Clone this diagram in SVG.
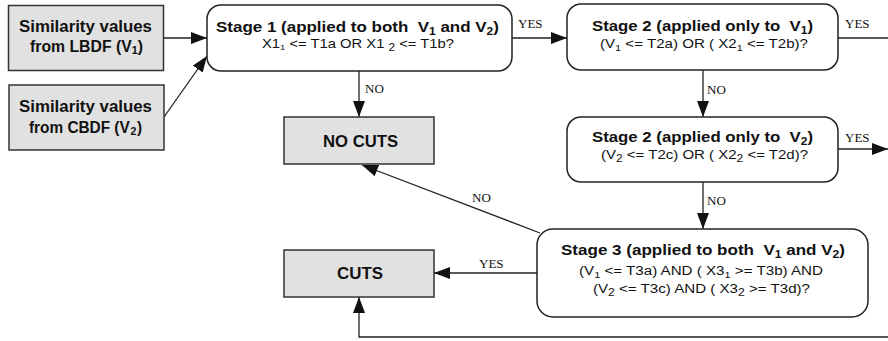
<svg xmlns="http://www.w3.org/2000/svg" width="888" height="341" viewBox="0 0 888 341">
<style>
.box{fill:#e1e1e1;stroke:#333;stroke-width:1.5}
.stage{fill:#fff;stroke:#222;stroke-width:1.5}
.lbl{font-family:"Liberation Sans",Arial,sans-serif;font-weight:bold;font-size:16px;fill:#111}
.ttl{font-family:"Liberation Sans",Arial,sans-serif;font-weight:bold;font-size:15.5px;fill:#111}
.cnd{font-family:"Liberation Sans",Arial,sans-serif;font-size:12.5px;fill:#111}
.yn{font-family:"Liberation Serif","Times New Roman",serif;font-size:13px;fill:#111}
.ln{fill:none;stroke:#222;stroke-width:1.3}
</style>
<defs>
<marker id="ah" markerUnits="userSpaceOnUse" markerWidth="16" markerHeight="12" refX="16" refY="6" orient="auto" viewBox="0 0 16 12">
<path d="M0,0 L16,6 L0,12 z" fill="#111"/>
</marker>
</defs>
<g id="connectors">
<path class="ln" d="M164,38 H207" marker-end="url(#ah)"/>
<path class="ln" d="M164,117 L207,56" marker-end="url(#ah)"/>
<path class="ln" d="M512,38 H567" marker-end="url(#ah)"/>
<path class="ln" d="M838,38 H888"/>
<path class="ln" d="M359,71 V117" marker-end="url(#ah)"/>
<path class="ln" d="M703,70 V117" marker-end="url(#ah)"/>
<path class="ln" d="M838,149 H888" marker-end="url(#ah)"/>
<path class="ln" d="M703,182 V229" marker-end="url(#ah)"/>
<path class="ln" d="M540,233 L362,165" marker-end="url(#ah)"/>
<path class="ln" d="M537,273 H434" marker-end="url(#ah)"/>
<path class="ln" d="M888,337 H359 V297" marker-end="url(#ah)"/>
<text class="yn" x="518" y="28">YES</text>
<text class="yn" x="845" y="28">YES</text>
<text class="yn" x="845" y="142">YES</text>
<text class="yn" x="365" y="93">NO</text>
<text class="yn" x="707" y="94">NO</text>
<text class="yn" x="707" y="205">NO</text>
<text class="yn" x="472" y="202">NO</text>
<text class="yn" x="479" y="268">YES</text>
</g>
<g id="lbdf">
<rect class="box" x="8.5" y="5.5" width="155" height="65"/>
<text class="lbl" x="19" y="32" textLength="133" lengthAdjust="spacingAndGlyphs">Similarity values</text>
<text class="lbl" x="30" y="52" textLength="113" lengthAdjust="spacingAndGlyphs">from LBDF (V<tspan font-size="11" dy="2">1</tspan><tspan dy="-2">)</tspan></text>
</g>
<g id="cbdf">
<rect class="box" x="9" y="85" width="155" height="65"/>
<text class="lbl" x="19" y="112" textLength="133" lengthAdjust="spacingAndGlyphs">Similarity values</text>
<text class="lbl" x="29" y="133" textLength="113" lengthAdjust="spacingAndGlyphs">from CBDF (V<tspan font-size="11" dy="2" dx="0.8">2</tspan><tspan dy="-2" dx="0.5">)</tspan></text>
</g>
<g id="stage1">
<rect class="stage" x="207" y="5" width="305" height="66" rx="14"/>
<text class="ttl" x="216" y="32" textLength="283" lengthAdjust="spacingAndGlyphs" xml:space="preserve">Stage 1 (applied to both  V<tspan font-size="11" dy="2.5">1</tspan><tspan dy="-2.5"> and V</tspan><tspan font-size="11" dy="2.5">2</tspan><tspan dy="-2.5">)</tspan></text>
<text class="cnd" x="262" y="48" textLength="192" lengthAdjust="spacingAndGlyphs" xml:space="preserve">X1<tspan font-size="8" dy="2">1</tspan><tspan dy="-2"> &lt;= T1a OR X1 </tspan><tspan font-size="10" dy="3">2</tspan><tspan dy="-3"> &lt;= T1b?</tspan></text>
</g>
<g id="stage2a">
<rect class="stage" x="567" y="4" width="271" height="66" rx="14"/>
<text class="ttl" x="592" y="31" textLength="221" lengthAdjust="spacingAndGlyphs" xml:space="preserve">Stage 2 (applied only to  V<tspan font-size="11" dy="2.5">1</tspan><tspan dy="-2.5">)</tspan></text>
<text class="cnd" x="600" y="48" textLength="208" lengthAdjust="spacingAndGlyphs" xml:space="preserve">(V<tspan font-size="9" dy="3">1</tspan><tspan dy="-3"> &lt;= T2a) OR ( X2</tspan><tspan font-size="9" dy="3">1</tspan><tspan dy="-3"> &lt;= T2b)?</tspan></text>
</g>
<g id="stage2b">
<rect class="stage" x="567" y="117" width="271" height="65" rx="14"/>
<text class="ttl" x="592" y="142" textLength="221" lengthAdjust="spacingAndGlyphs" xml:space="preserve">Stage 2 (applied only to  V<tspan font-size="11" dy="2.5">2</tspan><tspan dy="-2.5">)</tspan></text>
<text class="cnd" x="601" y="159" textLength="207" lengthAdjust="spacingAndGlyphs" xml:space="preserve">(V<tspan font-size="10" dy="3">2</tspan><tspan dy="-3"> &lt;= T2c) OR ( X2</tspan><tspan font-size="10" dy="3">2</tspan><tspan dy="-3"> &lt;= T2d)?</tspan></text>
</g>
<g id="stage3">
<rect class="stage" x="537" y="229" width="331" height="88" rx="16"/>
<text class="ttl" x="561" y="255" textLength="284" lengthAdjust="spacingAndGlyphs" xml:space="preserve">Stage 3 (applied to both  V<tspan font-size="11" dy="2.5">1</tspan><tspan dy="-2.5"> and V</tspan><tspan font-size="11" dy="2.5">2</tspan><tspan dy="-2.5">)</tspan></text>
<text class="cnd" x="579" y="275" textLength="244" lengthAdjust="spacingAndGlyphs" xml:space="preserve">(V<tspan font-size="9" dy="3">1</tspan><tspan dy="-3"> &lt;= T3a) AND ( X3</tspan><tspan font-size="9" dy="3">1</tspan><tspan dy="-3"> &gt;= T3b) AND</tspan></text>
<text class="cnd" x="593" y="293" textLength="217" lengthAdjust="spacingAndGlyphs" xml:space="preserve">(V<tspan font-size="10" dy="3">2</tspan><tspan dy="-3"> &lt;= T3c) AND ( X3</tspan><tspan font-size="10" dy="3">2</tspan><tspan dy="-3"> &gt;= T3d)?</tspan></text>
</g>
<g id="nocuts">
<rect class="box" x="284" y="117" width="150" height="47"/>
<text class="lbl" x="323" y="147" textLength="75" lengthAdjust="spacingAndGlyphs">NO CUTS</text>
</g>
<g id="cuts">
<rect class="box" x="284" y="250" width="150" height="47"/>
<text class="lbl" x="337" y="279" textLength="46" lengthAdjust="spacingAndGlyphs">CUTS</text>
</g>
</svg>
